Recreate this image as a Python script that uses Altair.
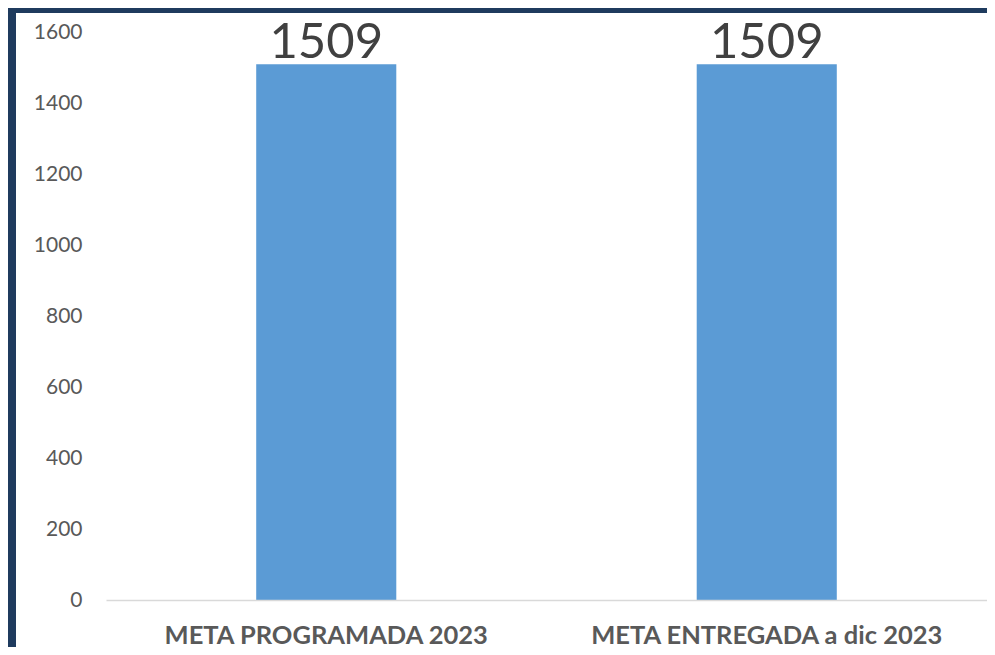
import altair as alt
import pandas as pd

categories = ["META PROGRAMADA 2023", "META ENTREGADA a dic 2023"]
values = [1509, 1509]
y_ticks = [0, 200, 400, 600, 800, 1000, 1200, 1400, 1600]

df = pd.DataFrame({"cat": categories, "val": values})
bg = pd.DataFrame({"k": [0]})

W, H = 881, 568

panel = alt.Chart(bg).mark_rect(color="white").encode(
    x=alt.value(-90), x2=alt.value(W + 20),
    y=alt.value(-19), y2=alt.value(H + 60),
)

x_enc = alt.X(
    "cat:N", sort=categories, title=None,
    scale=alt.Scale(paddingInner=0.682, paddingOuter=0.341),
    axis=alt.Axis(
        labelAngle=0, labelFont="Lato", labelFontSize=25.5, labelFontWeight="bold",
        labelColor="#595959", ticks=False, tickSize=0, labelPadding=23,
        labelLimit=0, domainColor="#d9d9d9", domainWidth=1.5, zindex=1,
    ),
)
y_enc = alt.Y(
    "val:Q", title=None,
    scale=alt.Scale(domain=[0, 1600], nice=False),
    axis=alt.Axis(
        values=y_ticks, format="d", grid=False, domain=False, ticks=False, tickSize=0,
        labelFont="Lato", labelFontSize=21, labelColor="#595959", labelPadding=24,
        zindex=1,
    ),
)

bars = alt.Chart(df).mark_bar(color="#5b9bd5").encode(x=x_enc, y=y_enc)
text = alt.Chart(df).mark_text(
    font="Lato", fontSize=49, color="#404040", baseline="alphabetic", dy=-6
).encode(x=alt.X("cat:N", sort=categories), y="val:Q", text="val:Q")

chart = alt.layer(panel, bars, text).properties(
    width=W, height=H,
    autosize=alt.AutoSizeParams(type="none"),
    padding={"left": 98, "top": 24, "right": 0, "bottom": 47},
    background="#1f3b5e",
).configure_view(stroke=None)

chart.save("out.html", embed_options={"renderer": "svg", "actions": False})
